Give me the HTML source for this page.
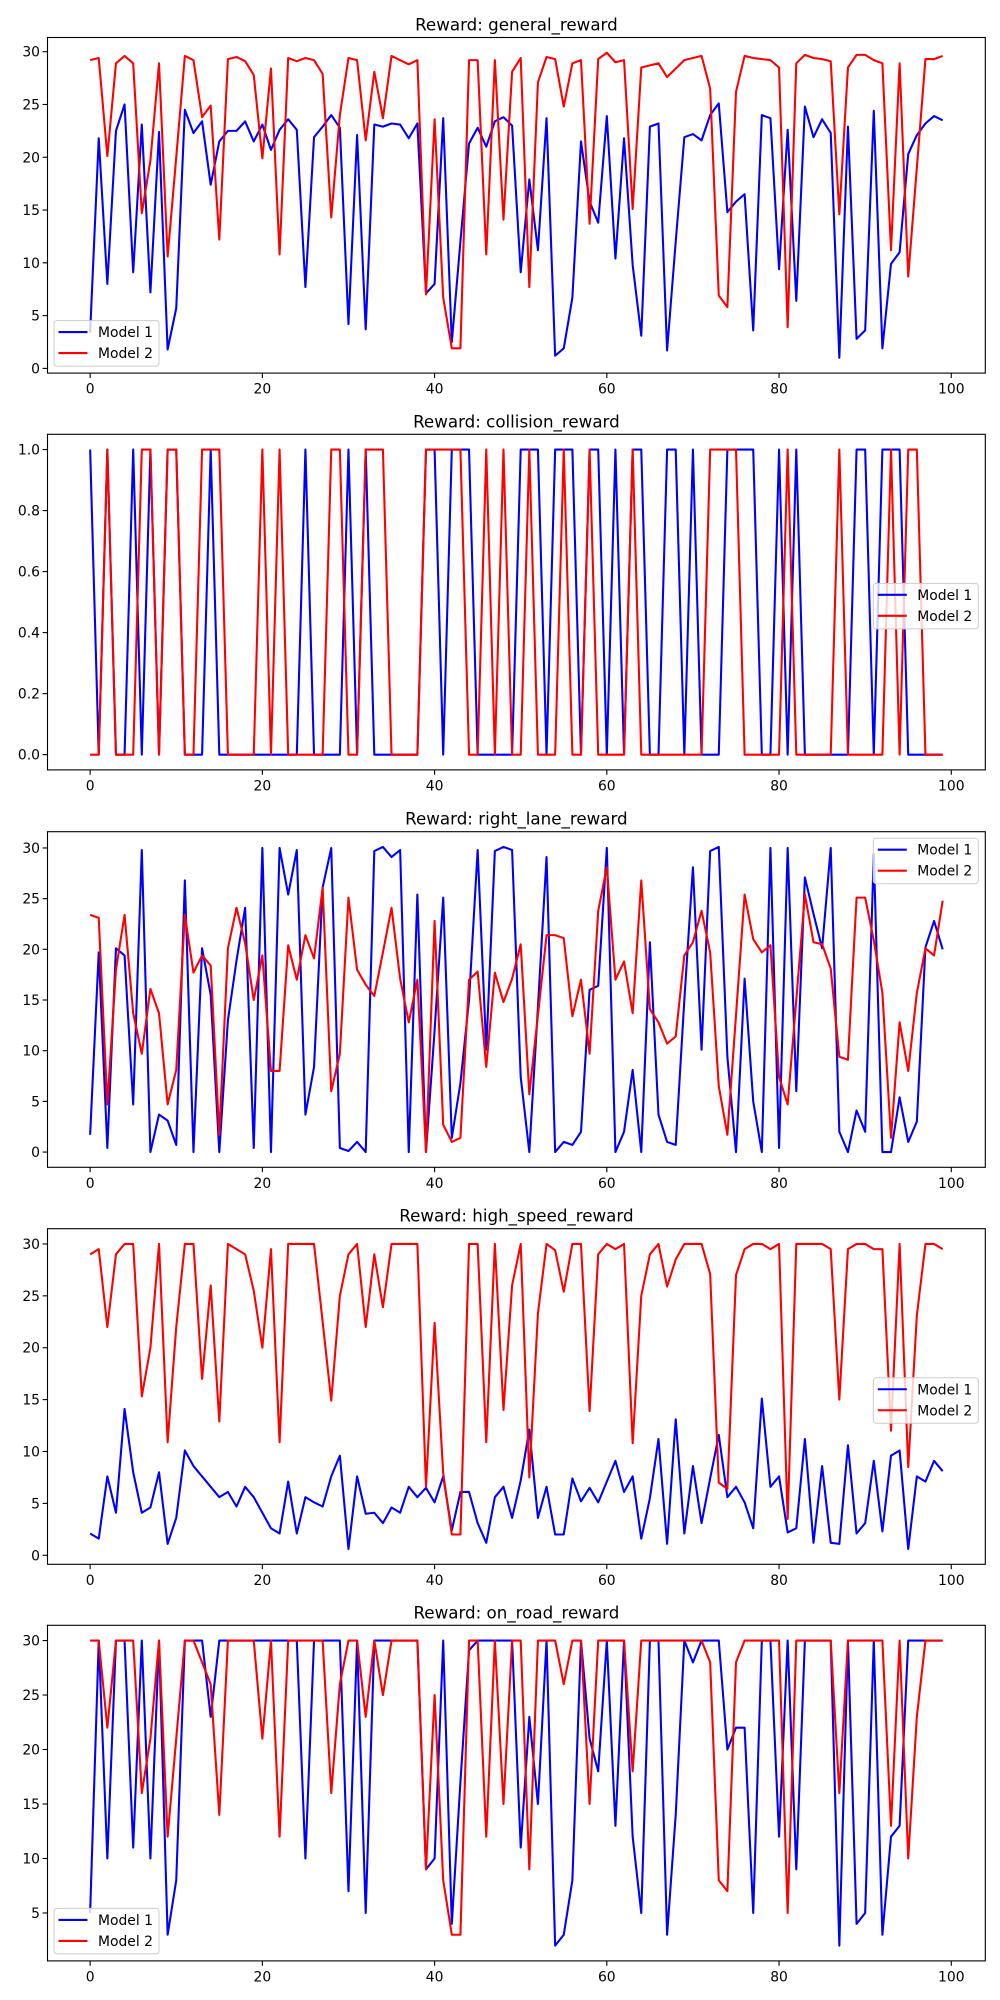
<!DOCTYPE html>
<html><head><meta charset="utf-8"><style>
html,body{margin:0;padding:0;background:#fff;}
svg{display:block;font-family:"DejaVu Sans","Liberation Sans",sans-serif;}
</style></head><body>
<svg id="fig" width="1000" height="2000" viewBox="0 0 1000 2000" xmlns="http://www.w3.org/2000/svg"></svg>
<script>
const xCount = 100;
const titles = ["general_reward","collision_reward","right_lane_reward","high_speed_reward","on_road_reward"];
const general_m1 = [3.4,21.8,8.0,22.5,25.0,9.1,23.1,7.2,22.4,1.8,5.7,24.5,22.3,23.4,17.4,21.5,22.5,22.5,23.4,21.5,23.1,20.7,22.6,23.6,22.6,7.7,21.9,22.9,24.0,22.8,4.2,22.1,3.7,23.1,22.9,23.2,23.1,21.8,23.2,7.1,8.0,23.7,2.5,12,21.3,22.8,21.0,23.4,23.8,23.0,9.1,17.9,11.2,23.7,1.2,1.9,6.7,21.5,15.8,13.8,23.9,10.4,21.8,9.8,3.1,22.9,23.2,1.7,12,21.9,22.2,21.6,24.0,25.1,14.8,15.8,16.5,3.6,24.0,23.7,9.4,22.6,6.4,24.8,21.9,23.6,22.3,1.0,22.9,2.8,3.6,24.4,1.9,9.9,11.0,20.3,22.1,23.2,23.9,23.5];
const general_m2 = [29.2,29.4,20.1,28.9,29.6,28.9,14.7,19.7,28.9,10.6,20,29.6,29.2,23.8,24.9,12.2,29.3,29.5,29.1,27.8,19.9,28.4,10.8,29.4,29.1,29.4,29.2,27.9,14.3,24.0,29.4,29.2,21.6,28.1,23.7,29.6,29.2,28.8,29.2,7.0,23.6,6.7,1.9,1.9,29.2,29.2,10.8,29.2,14.1,28.1,29.4,7.7,27.1,29.5,29.3,24.8,28.9,29.2,13.7,29.3,29.9,29.0,29.2,15.1,28.5,28.7,28.9,27.6,28.4,29.2,29.4,29.6,26.5,6.9,5.8,26.2,29.6,29.4,29.3,29.2,28.5,3.9,28.9,29.7,29.4,29.3,29.1,14.6,28.5,29.7,29.7,29.2,28.9,11.2,28.9,8.7,19,29.3,29.3,29.6];
const collision_m1 = [1,0,1,0,0,1,0,1,0,1,1,0,0,0,1,0,0,0,0,0,0,0,0,0,0,1,0,0,0,0,1,0,1,0,0,0,0,0,0,1,1,0,1,1,1,0,0,0,0,0,1,1,1,0,1,1,1,0,1,1,0,1,0,1,1,0,0,1,1,0,1,0,0,0,1,1,1,1,0,0,1,0,1,0,0,0,0,0,0,1,1,0,1,1,1,0,0,0,0,0];
const collision_m2 = [0,0,1,0,0,0,1,1,0,1,1,0,0,1,1,1,0,0,0,0,1,0,1,0,0,0,0,0,1,1,0,0,1,1,1,0,0,0,0,1,1,1,1,1,0,0,1,0,1,0,0,1,0,0,0,1,0,0,1,0,0,0,0,1,0,0,0,0,0,0,0,0,1,1,1,1,0,0,0,0,0,1,0,0,0,0,0,1,0,0,0,0,0,1,0,1,1,0,0,0];
const lane_m1 = [1.7,19.7,0.4,20.1,19.4,4.7,29.8,0,3.7,3.1,0.7,26.8,0,20.1,15.5,0,13.0,18.9,24.1,0.4,30,0,30,25.4,29.8,3.7,8.4,26.1,30,0.4,0.1,1.0,0,29.7,30.1,29.1,29.8,0,25.4,0,12,25.1,1.4,6.8,15,29.8,10.1,29.7,30.1,29.8,7.4,0,14.3,29.1,0,1.0,0.7,2.0,16.0,16.4,30,0,2.0,8.1,0,20.7,3.7,1.0,0.7,15,28.1,10.1,29.7,30.1,9.4,0,17.1,5.0,0,30,0.4,30,6.0,27.1,23.5,20.1,30,2.0,0,4.1,2.0,29.4,0,0,5.4,1.0,3.0,20.2,22.8,20.0];
const lane_m2 = [23.4,23.1,4.7,18,23.4,13.7,9.7,16.1,13.7,4.7,8.1,23.4,17.7,19.4,18.4,1.7,20.1,24.1,20.6,15.0,19.4,8.0,8.0,20.4,17.0,21.4,19.1,26.1,6.0,9.7,25.1,18.0,16.5,15.4,19.7,24.1,17.1,12.8,17.0,0,22.8,2.7,1.0,1.4,17.0,17.8,8.4,17.7,14.8,17.1,20.5,5.7,13.5,21.4,21.4,21.1,13.4,17.0,9.7,23.8,28.1,17.0,18.8,13.7,26.8,14.1,12.8,10.7,11.4,19.4,20.7,23.8,19.7,6.5,1.7,13.5,25.4,21.0,19.7,20.4,7.4,4.7,15,25.4,20.7,20.5,18.1,9.4,9.1,25.1,25.1,20.9,15.7,1.4,12.8,8.0,15.7,20.1,19.4,24.8];
const speed_m1 = [2.1,1.6,7.6,4.1,14.1,8.0,4.1,4.6,8.0,1.1,3.6,10.1,8.6,7.6,6.6,5.6,6.1,4.7,6.6,5.6,4.1,2.6,2.1,7.1,2.1,5.6,5.1,4.7,7.6,9.6,0.6,7.6,4.0,4.1,3.1,4.6,4.1,6.6,5.6,6.5,5.1,7.6,2.4,6.1,6.1,3.1,1.2,5.6,6.6,3.6,7.2,12.1,3.6,6.6,2.0,2.0,7.4,5.2,6.5,5.1,7.1,9.1,6.1,7.6,1.6,5.5,11.2,1.1,13.1,2.1,8.6,3.1,7.4,11.6,5.6,6.6,5.1,2.6,15.1,6.6,7.6,2.2,2.6,11.2,1.2,8.6,1.2,1.1,10.6,2.1,3.1,9.1,2.3,9.6,10.1,0.6,7.6,7.1,9.1,8.1];
const speed_m2 = [29.0,29.5,22.0,29.0,30,30,15.3,20.0,30,10.9,22,30,30,17.0,26.0,12.9,30,29.5,29.0,25.5,20.0,29.5,10.9,30,30,30,30,22.5,14.9,25.0,29.0,30,22.0,29.0,23.9,30,30,30,30,6.6,22.4,7.9,2.0,2.0,30,30,10.9,30,14.0,26.0,30,7.5,23.3,30,29.4,25.4,30,30,13.9,29.0,30,29.5,30,10.8,25.0,29.0,30,25.9,28.5,30,30,30,27.1,7.0,6.4,27.0,29.5,30,30,29.5,30,3.5,30,30,30,30,29.5,15.0,29.5,30,30,29.5,29.5,12.0,30,8.5,23.1,30,30,29.5];
const road_m1 = [5,30,10,30,30,11,30,10,30,3,8,30,30,30,23,30,30,30,30,30,30,30,30,30,30,10,30,30,30,30,7,30,5,30,30,30,30,30,30,9,10,30,4,17,29.1,30,30,30,30,30,11,23,15,30,2,3,8,30,21,18,30,13,30,12,5,30,30,3,14,30,28,30,30,30,20,22,22,5,30,30,12,30,9,30,30,30,30,2,30,4,5,30,3,12,13,30,30,30,30,30];
const road_m2 = [30,30,22,30,30,30,16,21,30,12,21,30,30,28,26,14,30,30,30,30,21,30,12,30,30,30,30,30,16,26,30,30,23,30,25,30,30,30,30,9,25,8,3,3,30,30,12,30,15,30,30,9,30,30,30,26,30,30,15,30,30,30,30,18,30,30,30,30,30,30,30,30,28,8,7,28,30,30,30,30,30,5,30,30,30,30,30,16,30,30,30,30,30,13,30,10,23,30,30,30];
const m1Series = [general_m1, collision_m1, lane_m1, speed_m1, road_m1];
const m2Series = [general_m2, collision_m2, lane_m2, speed_m2, road_m2];
const xTickLabels = [0,20,40,60,80,100];
const yTickSets = [[0,5,10,15,20,25,30],[0,0.2,0.4,0.6,0.8,1.0],[0,5,10,15,20,25,30],[0,5,10,15,20,25,30],[5,10,15,20,25,30]];
const yTickText = [["0","5","10","15","20","25","30"],["0.0","0.2","0.4","0.6","0.8","1.0"],["0","5","10","15","20","25","30"],["0","5","10","15","20","25","30"],["5","10","15","20","25","30"]];
const legendLoc = ["lower left","center right","upper right","center right","lower left"];

const NS = "http://www.w3.org/2000/svg";
const svg = document.getElementById("fig");
function mk(tag, attrs, parent){const e=document.createElementNS(NS,tag);for(const k in attrs)e.setAttribute(k,attrs[k]);parent.appendChild(e);return e;}

const L = 47.5, R = 985.3, H = 335.6;
const tops = [37.5, 434.3, 831.7, 1228.7, 1625.3];

for (let p = 0; p < 5; p++) {
  const top = tops[p], bot = top + H;
  const a = m1Series[p], b = m2Series[p];
  const all = a.concat(b);
  const mn = Math.min(...all), mx = Math.max(...all), sp = mx - mn;
  const y0 = mn - 0.05*sp, y1 = mx + 0.05*sp;
  const x0 = -0.05*(xCount-1), x1 = (xCount-1)*1.05;
  const xs = v => L + (v - x0)/(x1 - x0)*(R - L);
  const ys = v => bot - (v - y0)/(y1 - y0)*H;

  const g = mk("g", {}, svg);
  
  

  const t = mk("text", {x:(L+R)/2, y:top-7, "text-anchor":"middle", "font-size":"16.7", fill:"#000"}, g);
  
  
  t.textContent = "Reward: " + titles[p];

  // series
  const pathFor = arr => arr.map((v,i)=>(i?"L":"M")+xs(i).toFixed(2)+","+ys(v).toFixed(2)).join(" ");
  const l1 = mk("path", {d:pathFor(a), fill:"none", stroke:"#0000ff", "stroke-width":"2.08", "stroke-linejoin":"round"}, g);
  
  
  const l2 = mk("path", {d:pathFor(b), fill:"none", stroke:"#ff0000", "stroke-width":"2.08", "stroke-linejoin":"round"}, g);
  
  

  // frame
  const fr = mk("rect", {x:L, y:top, width:R-L, height:H, fill:"none", stroke:"#000", "stroke-width":"1.1"}, g);
  
  

  // x ticks
  xTickLabels.forEach(v => {
    const x = xs(v);
    const tk = mk("line", {x1:x, y1:bot, x2:x, y2:bot+4.9, stroke:"#000", "stroke-width":"1.1"}, g);
    
    
    const tl = mk("text", {x:x, y:bot+20.5, "text-anchor":"middle", "font-size":"13.9", fill:"#000"}, g);
    
    
    tl.textContent = v;
  });
  // y ticks
  yTickSets[p].forEach((v,k) => {
    const y = ys(v);
    const tk = mk("line", {x1:L-4.9, y1:y, x2:L, y2:y, stroke:"#000", "stroke-width":"1.1"}, g);
    
    
    const tl = mk("text", {x:L-7.5, y:y+5, "text-anchor":"end", "font-size":"13.9", fill:"#000"}, g);
    
    
    tl.textContent = yTickText[p][k];
  });

  // legend
  const lw = 105, lh = 45.5;
  let lx, ly;
  if (legendLoc[p] === "lower left") { lx = L + 6.5; ly = bot - 7 - lh; }
  else if (legendLoc[p] === "upper right") { lx = R - 7 - lw; ly = top + 6.5; }
  else { lx = R - 7 - lw; ly = (top+bot)/2 - lh/2 + 4; }
  const lg = mk("g", {}, g);
  
  
  mk("rect", {x:lx, y:ly, width:lw, height:lh, rx:3, fill:"#fff", "fill-opacity":"0.8", stroke:"#cccccc", "stroke-width":"1"}, lg);
  [["Model 1","#0000ff"],["Model 2","#ff0000"]].forEach((e,k)=>{
    const cy = ly + 11.5 + k*21;
    const en = mk("g", {}, lg);
    
    
    mk("line", {x1:lx+4.5, y1:cy, x2:lx+33.5, y2:cy, stroke:e[1], "stroke-width":"2.08"}, en);
    const tx = mk("text", {x:lx+44, y:cy+5, "font-size":"13.9", fill:"#000"}, en);
    tx.textContent = e[0];
  });
}
</script>
</body></html>
